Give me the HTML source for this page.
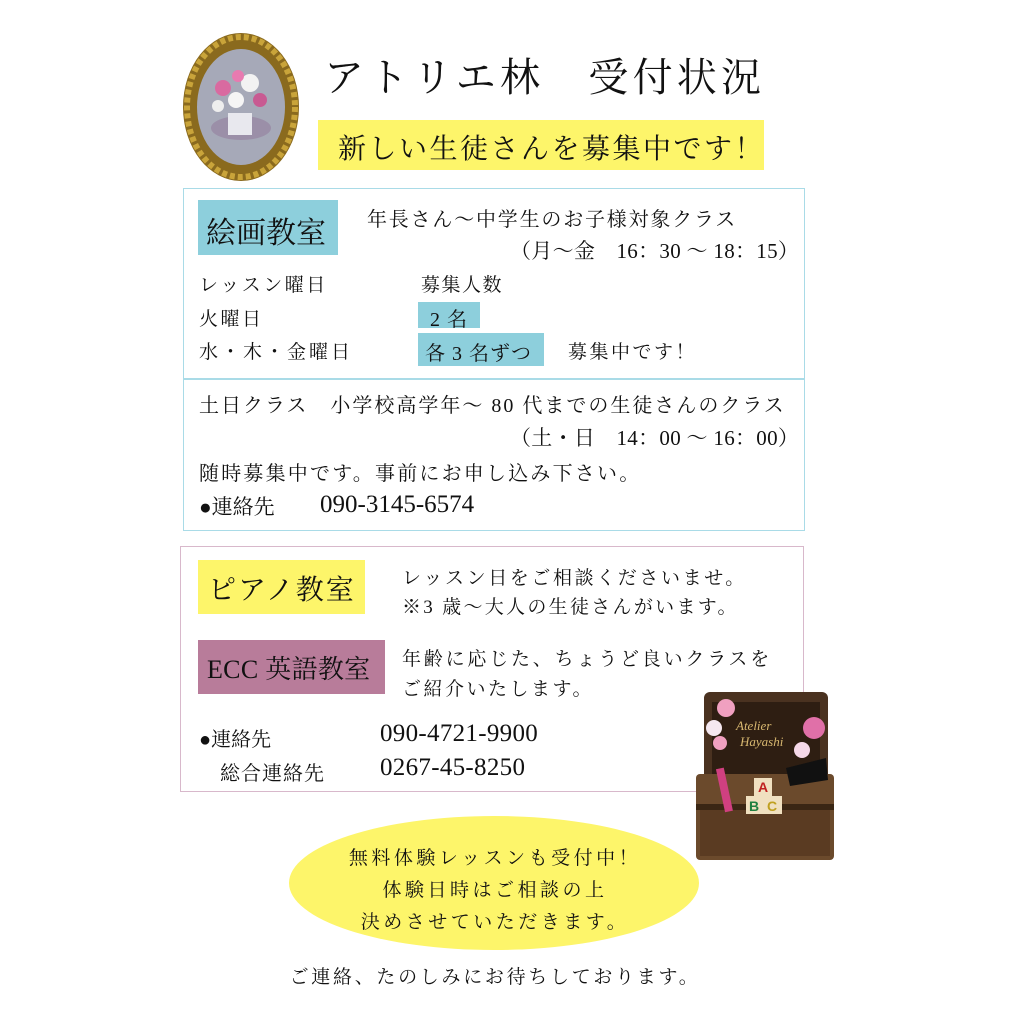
<!DOCTYPE html>
<html><head><meta charset="utf-8"><style>
body{margin:0;width:1024px;height:1024px;background:#fff;position:relative;overflow:hidden;font-family:"Liberation Serif","Noto Serif CJK SC",serif;color:#111}
.a{position:absolute;white-space:nowrap;letter-spacing:2.5px}
svg.a{letter-spacing:0}
.box{position:absolute;box-sizing:border-box}
</style></head><body>
<svg class="a" style="left:178px;top:28px" width="126" height="158">
<ellipse cx="63" cy="79" rx="58" ry="74" fill="#8a6a1e"/>
<ellipse cx="63" cy="79" rx="54" ry="70" fill="none" stroke="#c9a43a" stroke-width="6" stroke-dasharray="5 3"/>
<ellipse cx="63" cy="79" rx="44" ry="58" fill="#a6a9b8"/>
<ellipse cx="63" cy="100" rx="30" ry="12" fill="#9b8fa8"/>
<rect x="50" y="85" width="24" height="22" fill="#e8e8ee"/>
<circle cx="45" cy="60" r="8" fill="#d96aa0"/><circle cx="72" cy="55" r="9" fill="#f2f2f2"/><circle cx="58" cy="72" r="8" fill="#f5f5f5"/><circle cx="82" cy="72" r="7" fill="#c85a92"/><circle cx="60" cy="48" r="6" fill="#e87ab0"/><circle cx="40" cy="78" r="6" fill="#eee"/>
</svg>
<div class="a" style="left:324px;top:46px;font-size:40px;letter-spacing:4.2px">アトリエ林　受付状況</div>
<div class="box" style="left:318px;top:120px;width:446px;height:50px;background:#fdf56a"></div>
<div class="a" style="left:338px;top:127px;font-size:28px;letter-spacing:2.5px">新しい生徒さんを募集中です！</div>

<div class="box" style="left:183px;top:188px;width:622px;height:191px;border:1.5px solid #a9dbe7"></div>
<div class="box" style="left:183px;top:379px;width:622px;height:152px;border:1.5px solid #a9dbe7"></div>
<div class="box" style="left:198px;top:200px;width:140px;height:55px;background:#8dcfdc"></div>
<div class="a" style="left:206px;top:208px;font-size:30px;letter-spacing:0">絵画教室</div>
<div class="a" style="left:367px;top:203px;font-size:20px;letter-spacing:1.8px">年長さん～中学生のお子様対象クラス</div>
<div class="a" style="left:510px;top:235px;font-size:21px;letter-spacing:0.3px">（月～金　16：30 ～ 18：15）</div>
<div class="a" style="left:199px;top:270px;font-size:19px;letter-spacing:2.5px">レッスン曜日</div>
<div class="a" style="left:421px;top:270px;font-size:19px;letter-spacing:1.5px">募集人数</div>
<div class="a" style="left:199px;top:304px;font-size:19px">火曜日</div>
<div class="box" style="left:418px;top:302px;width:62px;height:26px;background:#8dcfdc"></div>
<div class="a" style="left:430px;top:303px;font-size:20px;letter-spacing:1px">2 名</div>
<div class="a" style="left:199px;top:337px;font-size:19px;letter-spacing:3px">水・木・金曜日</div>
<div class="box" style="left:418px;top:333px;width:126px;height:33px;background:#8dcfdc"></div>
<div class="a" style="left:425px;top:337px;font-size:20px;letter-spacing:1px">各 3 名ずつ</div>
<div class="a" style="left:568px;top:337px;font-size:19px;letter-spacing:2.5px">募集中です！</div>

<div class="a" style="left:199px;top:389px;font-size:20px;letter-spacing:2px">土日クラス　小学校高学年～ 80 代までの生徒さんのクラス</div>
<div class="a" style="left:510px;top:422px;font-size:21px;letter-spacing:0.3px">（土・日　14：00 ～ 16：00）</div>
<div class="a" style="left:199px;top:457px;font-size:20px;letter-spacing:2.2px">随時募集中です。事前にお申し込み下さい。</div>
<div class="a" style="left:199px;top:491px;font-size:21px;letter-spacing:0">●連絡先</div>
<div class="a" style="left:320px;top:491px;font-size:25px;letter-spacing:0">090-3145-6574</div>

<div class="box" style="left:180px;top:546px;width:624px;height:246px;border:1.5px solid #d8b8cb"></div>
<div class="box" style="left:198px;top:560px;width:167px;height:54px;background:#fdf56a"></div>
<div class="a" style="left:208px;top:568px;font-size:28px;letter-spacing:2px">ピアノ教室</div>
<div class="a" style="left:402px;top:563px;font-size:19px;letter-spacing:2.6px">レッスン日をご相談くださいませ。</div>
<div class="a" style="left:402px;top:592px;font-size:19px;letter-spacing:2.3px">※3 歳～大人の生徒さんがいます。</div>
<div class="box" style="left:198px;top:640px;width:187px;height:54px;background:#b87c9a"></div>
<div class="a" style="left:207px;top:649px;font-size:26px;letter-spacing:0.3px">ECC 英語教室</div>
<div class="a" style="left:402px;top:644px;font-size:19px;letter-spacing:2.8px">年齢に応じた、ちょうど良いクラスを</div>
<div class="a" style="left:402px;top:674px;font-size:19px;letter-spacing:2.5px">ご紹介いたします。</div>
<div class="a" style="left:199px;top:723px;font-size:20px;letter-spacing:0">●連絡先</div>
<div class="a" style="left:380px;top:720px;font-size:25px;letter-spacing:0.3px">090-4721-9900</div>
<div class="a" style="left:220px;top:757px;font-size:20px;letter-spacing:1px">総合連絡先</div>
<div class="a" style="left:380px;top:754px;font-size:25px;letter-spacing:0.3px">0267-45-8250</div>

<svg class="a" style="left:690px;top:688px" width="150" height="176">
<rect x="14" y="4" width="124" height="90" rx="6" fill="#4a3220"/>
<rect x="22" y="14" width="108" height="74" fill="#2e1e12"/>
<rect x="6" y="86" width="138" height="86" rx="4" fill="#6b4a2c"/>
<rect x="10" y="120" width="130" height="48" fill="#5a3b22"/>
<rect x="6" y="116" width="138" height="6" fill="#3a2614"/>
<text x="46" y="42" font-family="Liberation Serif" font-style="italic" font-size="13" fill="#d8b870">Atelier</text>
<text x="50" y="58" font-family="Liberation Serif" font-style="italic" font-size="13" fill="#d8b870">Hayashi</text>
<circle cx="36" cy="20" r="9" fill="#f0a0c0"/><circle cx="24" cy="40" r="8" fill="#f5e8f0"/><circle cx="30" cy="55" r="7" fill="#f0a0c0"/><circle cx="124" cy="40" r="11" fill="#e070a8"/><circle cx="112" cy="62" r="8" fill="#f5d8e8"/>
<rect x="30" y="80" width="8" height="44" fill="#d04080" transform="rotate(-12 34 100)"/>
<rect x="64" y="90" width="18" height="18" fill="#f0e0c0"/><rect x="56" y="108" width="18" height="18" fill="#f0e0c0"/><rect x="74" y="108" width="18" height="18" fill="#f0e0c0"/>
<text x="68" y="104" font-size="14" font-weight="bold" fill="#c02020" font-family="Liberation Sans">A</text>
<text x="59" y="123" font-size="14" font-weight="bold" fill="#208040" font-family="Liberation Sans">B</text>
<text x="77" y="123" font-size="14" font-weight="bold" fill="#c0a020" font-family="Liberation Sans">C</text>
<path d="M96 80 L136 70 L138 92 L100 98 Z" fill="#111"/>
</svg>

<svg class="a" style="left:288px;top:815px" width="412" height="136"><ellipse cx="206" cy="68" rx="205" ry="67" fill="#fdf56a"/></svg>
<div class="a" style="left:0;width:990px;text-align:center;top:843px;font-size:19px;line-height:32px;letter-spacing:3.5px">無料体験レッスンも受付中！<br>体験日時はご相談の上<br>決めさせていただきます。</div>
<div class="a" style="left:0;width:990px;text-align:center;top:962px;font-size:19px;letter-spacing:2.7px">ご連絡、たのしみにお待ちしております。</div>
</body></html>
